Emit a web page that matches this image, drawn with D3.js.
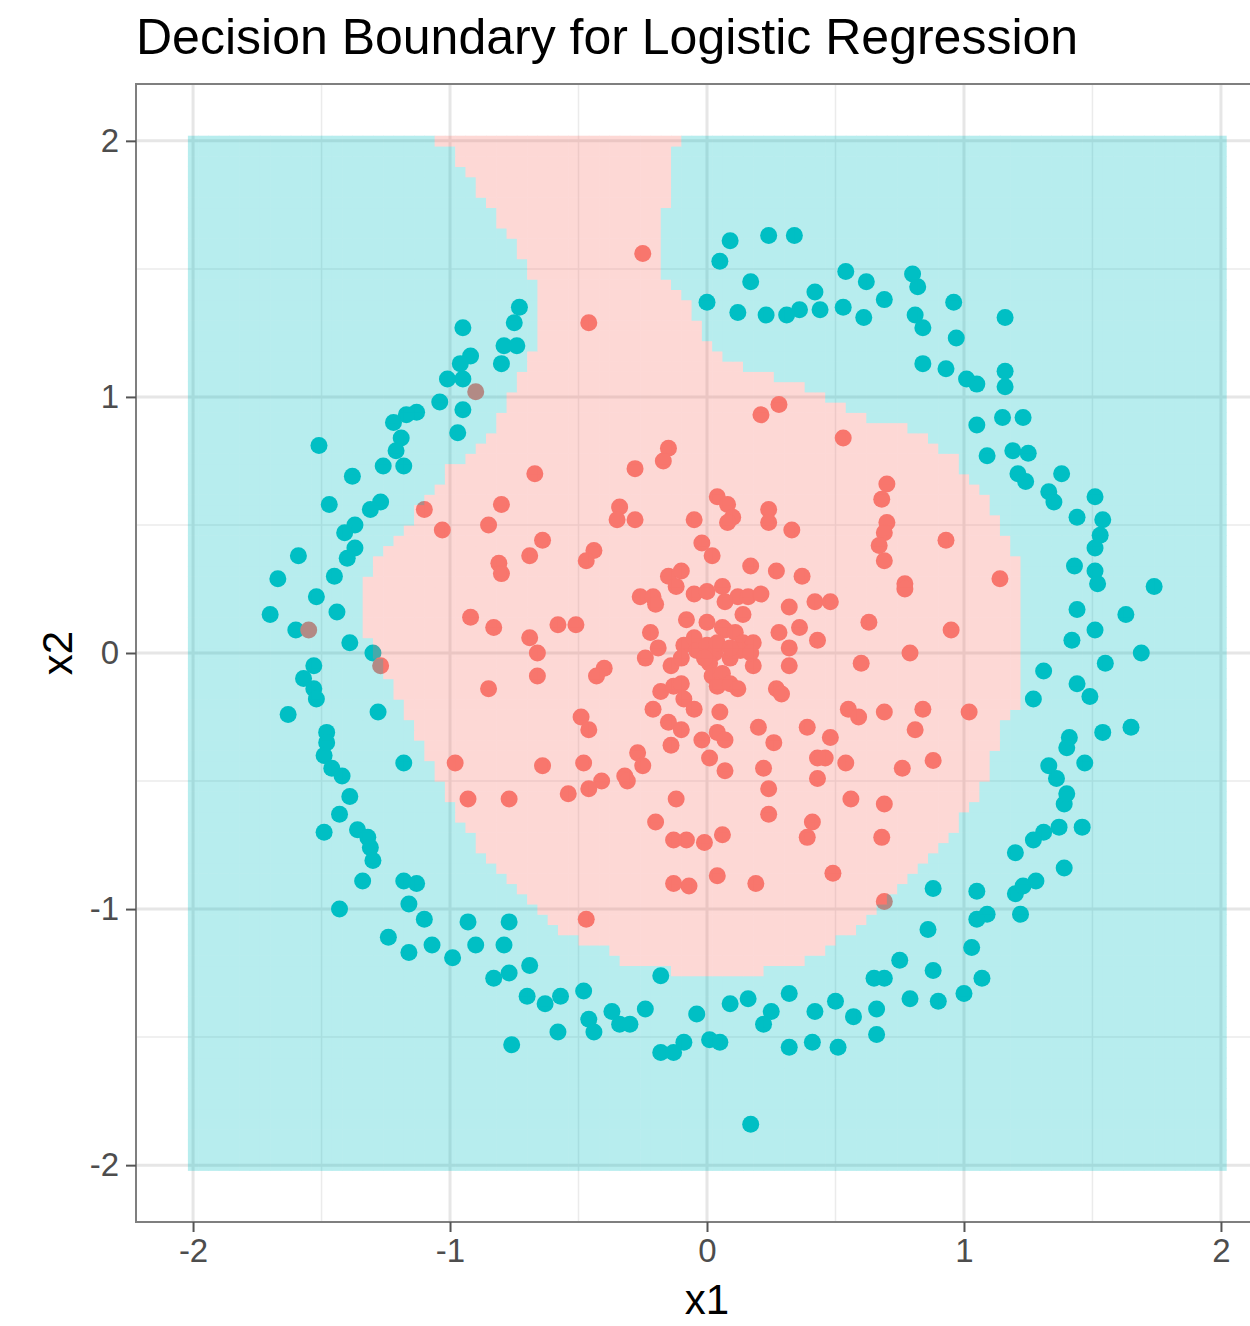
<!DOCTYPE html>
<html>
<head>
<meta charset="utf-8">
<script src="https://cdn.jsdelivr.net/npm/d3@7"></script>
<style>
  body { margin: 0; background: #fff; }
  text { font-family: "Liberation Sans", Arial, sans-serif; }
</style>
</head>
<body>
<div id="chart"></div>
<script>
// labels and ticks
titleText = "Decision Boundary for Logistic Regression"
xLabel = "x1"
yLabel = "x2"
majorTicks = [-2, -1, 0, 1, 2]
minorTicks = [-1.5, -0.5, 0.5, 1.5]

// prediction grid: -2..2 by 0.04
gridMin = -2
gridStep = 0.04
gridCount = 101

// outline of the region predicted as the inner class (x1, x2)
boundary = [
  [-1.04, 2.05], [-0.08, 2.05], [-0.08, 2.00], [-0.13, 1.98], [-0.13, 1.77], [-0.16, 1.75],
  [-0.16, 1.47], [-0.13, 1.45], [-0.08, 1.38], [-0.04, 1.30], [0.00, 1.22], [0.08, 1.16],
  [0.17, 1.11], [0.29, 1.07], [0.44, 1.01], [0.60, 0.93], [0.72, 0.90], [0.81, 0.86],
  [0.93, 0.79], [1.02, 0.70], [1.09, 0.62], [1.13, 0.54], [1.17, 0.44], [1.21, 0.36],
  [1.21, -0.20], [1.17, -0.25], [1.13, -0.36], [1.09, -0.46], [1.03, -0.59], [0.98, -0.67],
  [0.91, -0.77], [0.85, -0.82], [0.77, -0.89], [0.70, -0.98], [0.65, -1.03], [0.56, -1.10],
  [0.46, -1.15], [0.38, -1.21], [0.22, -1.22], [0.20, -1.26], [-0.12, -1.26], [-0.14, -1.22],
  [-0.32, -1.21], [-0.41, -1.15], [-0.53, -1.11], [-0.63, -1.04], [-0.70, -0.96], [-0.80, -0.85],
  [-0.88, -0.77], [-0.96, -0.65], [-1.02, -0.56], [-1.07, -0.44], [-1.13, -0.32], [-1.19, -0.20],
  [-1.25, -0.09], [-1.29, 0.01], [-1.33, 0.09], [-1.33, 0.29], [-1.29, 0.36], [-1.21, 0.44],
  [-1.16, 0.50], [-1.12, 0.58], [-1.00, 0.72], [-0.89, 0.81], [-0.80, 0.93], [-0.73, 1.07],
  [-0.69, 1.18], [-0.65, 1.24], [-0.65, 1.40], [-0.69, 1.48], [-0.73, 1.56], [-0.80, 1.67],
  [-0.88, 1.79], [-0.97, 1.91], [-1.00, 1.98], [-1.04, 2.00]
]

// observations, outer ring class
outerPts = [
  [-0.73,1.35],[-0.95,1.27],[-0.75,1.29],[-0.79,1.20],[-0.74,1.20],[-0.92,1.16],[-0.96,1.13],[-0.80,1.13],[-1.01,1.07],[-0.95,1.07],
  [-1.04,0.98],[-0.95,0.95],[-1.13,0.94],[-1.17,0.93],[-1.22,0.90],[-0.97,0.86],[-1.19,0.84],[-1.21,0.79],[-1.51,0.81],[-1.26,0.73],
  [-1.18,0.73],[-1.38,0.69],[-1.47,0.58],[-1.27,0.59],[-1.31,0.56],[-1.37,0.50],[-1.41,0.47],[-1.37,0.41],[-1.40,0.37],[-1.59,0.38],
  [-1.67,0.29],[-1.45,0.30],[-1.52,0.22],[-1.44,0.16],[-1.70,0.15],[-1.60,0.09],[-1.39,0.04],[-1.30,0.00],[-1.53,-0.05],[-1.57,-0.10],
  [-1.53,-0.14],[-1.52,-0.18],[-1.63,-0.24],[-1.28,-0.23],[-1.48,-0.31],[-1.48,-0.35],[-1.49,-0.40],[-1.46,-0.45],[-1.42,-0.48],[-1.18,-0.43],
  [-1.39,-0.56],[-1.43,-0.63],[-1.49,-0.70],[-1.36,-0.69],[-1.32,-0.72],[-1.31,-0.76],[-1.30,-0.81],[-1.34,-0.89],[-1.18,-0.89],[-1.13,-0.90],
  [-1.43,-1.00],[-1.16,-0.98],[-1.10,-1.04],[-0.93,-1.05],[-0.77,-1.05],[-1.24,-1.11],[-1.16,-1.17],[-1.07,-1.14],[-0.90,-1.14],[-0.79,-1.14],
  [-0.99,-1.19],[-0.69,-1.22],[-0.83,-1.27],[-0.77,-1.25],[-0.70,-1.34],[-0.76,-1.53],[-0.63,-1.37],[-0.57,-1.34],[-0.48,-1.32],[-0.58,-1.48],
  [-0.46,-1.43],[-0.44,-1.48],[-0.37,-1.40],[-0.34,-1.45],[-0.30,-1.45],[-0.24,-1.39],[-0.18,-1.26],[-0.18,-1.56],[-0.13,-1.56],[-0.09,-1.52],
  [-0.04,-1.41],[0.01,-1.51],[0.05,-1.52],[0.09,-1.37],[0.16,-1.35],[0.25,-1.40],[0.22,-1.45],[0.32,-1.33],[0.32,-1.54],[0.41,-1.52],
  [0.42,-1.40],[0.50,-1.36],[0.51,-1.54],[0.57,-1.42],[0.66,-1.39],[0.66,-1.49],[0.65,-1.27],[0.69,-1.27],[0.17,-1.84],
  [0.75,-1.20],[0.88,-1.24],[0.79,-1.35],[0.90,-1.36],[1.00,-1.33],[1.07,-1.27],[1.03,-1.15],[0.86,-1.08],[0.88,-0.92],[1.05,-0.93],
  [1.09,-1.02],[1.05,-1.04],[1.22,-1.02],[1.20,-0.94],[1.23,-0.91],[1.28,-0.89],[1.39,-0.84],[1.20,-0.78],
  [1.31,-0.70],[1.27,-0.73],[1.37,-0.68],[1.46,-0.68],[1.39,-0.59],[1.40,-0.55],[1.36,-0.49],[1.33,-0.44],[1.47,-0.43],[1.40,-0.37],
  [1.41,-0.33],[1.54,-0.31],[1.65,-0.29],[1.27,-0.18],[1.49,-0.17],[1.44,-0.12],[1.31,-0.07],[1.55,-0.04],[1.69,0.00],[1.42,0.05],
  [1.51,0.09],[1.63,0.15],[1.44,0.17],[1.74,0.26],[1.52,0.27],[1.51,0.32],[1.43,0.34],[1.51,0.41],[1.53,0.46],
  [1.54,0.52],[1.44,0.53],[1.51,0.61],[1.35,0.59],[1.33,0.63],[1.38,0.70],[1.24,0.67],[1.21,0.70],[1.25,0.78],[1.19,0.79],
  [1.09,0.77],[1.05,0.89],[1.15,0.92],[1.23,0.92],[1.16,1.04],[1.16,1.10],[1.05,1.05],[1.01,1.07],[0.93,1.11],[0.84,1.13],
  [0.97,1.23],[1.16,1.31],[0.84,1.27],[0.81,1.32],[0.96,1.37],[0.82,1.43],[0.80,1.48],[0.69,1.38],
  [0.09,1.61],[0.24,1.63],[0.34,1.63],[0.05,1.53],[0.17,1.45],[0.54,1.49],[0.62,1.45],[0.42,1.41],[0.00,1.37],[0.12,1.33],
  [0.23,1.32],[0.31,1.32],[0.36,1.34],[0.44,1.34],[0.53,1.35],[0.61,1.31]
]

// observations, inner cluster class
innerPts = [
  [-0.90,1.02],[-1.55,0.09],[-1.27,-0.05],[-0.67,0.70],[-0.80,0.58],[-1.10,0.56],[-0.85,0.50],[-1.03,0.48],
  [-0.25,1.56],[-0.46,1.29],[0.21,0.93],[0.28,0.97],[0.53,0.84],[-0.15,0.80],[-0.17,0.75],[-0.28,0.72],[0.04,0.61],[0.08,0.58],
  [0.10,0.53],[0.08,0.51],[-0.34,0.57],[-0.35,0.52],[-0.28,0.52],[-0.05,0.52],[0.24,0.56],[0.24,0.51],[0.33,0.48],[0.70,0.66],
  [0.68,0.60],[0.70,0.51],[0.69,0.47],[-0.64,0.44],[-0.02,0.43],[0.93,0.44],
  [-0.69,0.38],[-0.81,0.35],[-0.80,0.31],[-0.92,0.14],[-0.83,0.10],[-0.69,0.06],[-0.66,0.00],[-0.66,-0.09],[-0.85,-0.14],[-0.98,-0.43],
  [-0.64,-0.44],[-0.93,-0.57],[-0.77,-0.57],
  [-0.44,0.40],[-0.47,0.36],[0.02,0.38],[0.17,0.34],[0.27,0.32],[0.37,0.30],[-0.15,0.30],[-0.10,0.32],[-0.12,0.26],[-0.26,0.22],
  [-0.21,0.22],[-0.20,0.19],[-0.05,0.23],[0.00,0.24],[0.06,0.26],[0.07,0.20],[0.12,0.22],[0.16,0.22],[0.21,0.23],[0.32,0.18],
  [0.42,0.20],[0.48,0.20],[0.63,0.12],[0.67,0.42],[0.69,0.36],[-0.58,0.11],[-0.51,0.11],[-0.22,0.08],[-0.19,0.02],[-0.24,-0.02],
  [-0.08,0.13],[0.00,0.12],[0.06,0.10],[0.14,0.15],[0.28,0.08],[0.36,0.10],[0.43,0.05],[0.32,0.02],[0.32,-0.05],[0.18,-0.05],
  [0.60,-0.04],
  [-0.09,0.03],[-0.05,0.06],[-0.04,0.01],[0.00,0.03],[0.03,0.00],[0.07,0.09],[0.11,0.08],[0.14,0.04],[0.18,0.04],[0.13,0.01],
  [0.09,-0.02],[0.01,-0.04],[-0.14,-0.05],[-0.10,-0.02],[-0.01,-0.02],[0.04,0.04],[0.09,0.02],[0.17,0.00],[0.02,-0.09],[0.06,-0.08],
  [0.04,-0.13],[0.09,-0.12],[0.12,-0.14],
  [-0.40,-0.06],[-0.43,-0.09],[-0.18,-0.15],[-0.13,-0.13],[-0.10,-0.12],[-0.09,-0.18],[-0.05,-0.22],[-0.21,-0.22],[0.05,-0.23],[0.27,-0.14],
  [0.29,-0.16],[0.55,-0.22],[0.59,-0.25],[0.69,-0.23],[-0.49,-0.25],[-0.46,-0.30],[-0.15,-0.27],[-0.10,-0.30],[-0.14,-0.36],[-0.02,-0.34],
  [0.04,-0.31],[0.07,-0.34],[0.20,-0.29],[0.26,-0.35],[0.39,-0.29],[0.48,-0.33],[-0.27,-0.39],[-0.25,-0.44],[-0.32,-0.48],[-0.31,-0.50],
  [-0.48,-0.43],[-0.41,-0.50],[-0.46,-0.53],[-0.54,-0.55],[0.01,-0.41],[0.07,-0.46],[0.22,-0.45],[0.24,-0.53],[0.43,-0.41],[0.46,-0.41],
  [0.54,-0.43],[0.43,-0.49],[-0.12,-0.57],[0.56,-0.57],[0.69,-0.59],[-0.20,-0.66],[0.24,-0.63],[0.41,-0.66],[0.39,-0.72],[-0.13,-0.73],
  [-0.08,-0.73],[-0.01,-0.74],[0.06,-0.71],[0.68,-0.72],
  [1.14,0.29],[0.77,0.27],[0.77,0.25],[0.95,0.09],[0.79,0.00],[0.84,-0.22],[1.02,-0.23],[0.81,-0.30],[0.88,-0.42],[0.76,-0.45],
  [-0.13,-0.90],[-0.07,-0.91],[0.04,-0.87],[0.19,-0.90],[0.49,-0.86],[0.69,-0.97],[-0.47,-1.04]
]

col_inner = "#F8766D"
col_outer = "#00BFC4"

// Setup chart
canvas = ({width: 1250, height: 1326})
panel = ({left: 136, right: 1278, top: 84, bottom: 1222})
lim = [-2.222, 2.222]

x = d3.scaleLinear().domain(lim).range([panel.left, panel.right])
y = d3.scaleLinear().domain(lim).range([panel.bottom, panel.top])

var svg = d3.select("#chart").append("svg")
    .attr("width", canvas.width)
    .attr("height", canvas.height)

svg.append("rect")
    .attr("x", panel.left).attr("y", panel.top)
    .attr("width", panel.right - panel.left).attr("height", panel.bottom - panel.top)
    .attr("fill", "#fff")

// grid lines
grid = svg.append("g")
grid.selectAll(".vminor").data(minorTicks).join("line")
    .attr("x1", d => x(d)).attr("x2", d => x(d))
    .attr("y1", panel.top).attr("y2", panel.bottom)
    .attr("stroke", "#EBEBEB").attr("stroke-width", 1.5)
grid.selectAll(".hminor").data(minorTicks).join("line")
    .attr("y1", d => y(d)).attr("y2", d => y(d))
    .attr("x1", panel.left).attr("x2", panel.right)
    .attr("stroke", "#EBEBEB").attr("stroke-width", 1.5)
grid.selectAll(".vmajor").data(majorTicks).join("line")
    .attr("x1", d => x(d)).attr("x2", d => x(d))
    .attr("y1", panel.top).attr("y2", panel.bottom)
    .attr("stroke", "#E6E6E6").attr("stroke-width", 3)
grid.selectAll(".hmajor").data(majorTicks).join("line")
    .attr("y1", d => y(d)).attr("y2", d => y(d))
    .attr("x1", panel.left).attr("x2", panel.right)
    .attr("stroke", "#E6E6E6").attr("stroke-width", 3)

// points (drawn under the translucent tiles)
svg.append("g").selectAll("circle").data(outerPts).join("circle")
    .attr("cx", d => x(d[0])).attr("cy", d => y(d[1])).attr("r", 8.5)
    .attr("fill", col_outer)
svg.append("g").selectAll("circle").data(innerPts).join("circle")
    .attr("cx", d => x(d[0])).attr("cy", d => y(d[1])).attr("r", 8.5)
    .attr("fill", col_inner)

// prediction tiles
gridVals = d3.range(gridCount).map(i => +(gridMin + i * gridStep).toFixed(2))
cells = []
gridVals.forEach(gy => gridVals.forEach(gx => {
    cells.push({x: gx, y: gy, inner: d3.polygonContains(boundary, [gx, gy])})
}))

svg.append("g")
    .attr("opacity", 0.28)
    .selectAll("rect").data(cells).join("rect")
    .attr("x", d => x(d.x - gridStep / 2))
    .attr("y", d => y(d.y + gridStep / 2))
    .attr("width", x(gridStep) - x(0) + 0.6)
    .attr("height", y(0) - y(gridStep) + 0.6)
    .attr("fill", d => d.inner ? col_inner : col_outer)

// panel border
svg.append("rect")
    .attr("x", panel.left).attr("y", panel.top)
    .attr("width", panel.right - panel.left).attr("height", panel.bottom - panel.top)
    .attr("fill", "none").attr("stroke", "#7f7f7f").attr("stroke-width", 2)

// axes
xAxis = g => g
    .attr("transform", `translate(0,${panel.bottom})`)
    .call(d3.axisBottom(x).tickValues(majorTicks).tickSize(10).tickPadding(7).tickFormat(d => String(d)))
yAxis = g => g
    .attr("transform", `translate(${panel.left},0)`)
    .call(d3.axisLeft(y).tickValues(majorTicks).tickSize(10).tickPadding(7).tickFormat(d => String(d)))

svg.append("g").call(xAxis)
svg.append("g").call(yAxis)

svg.selectAll(".domain").remove()
svg.selectAll(".tick line").attr("stroke", "#555").attr("stroke-width", 2)
svg.selectAll(".tick text")
    .attr("fill", "#4D4D4D")
    .style("font-size", "33px")
    .style("font-family", "Liberation Sans, Arial, sans-serif")

// titles
svg.append("text")
    .attr("x", panel.left).attr("y", 54)
    .attr("font-size", 50).attr("fill", "#000")
    .text(titleText)

svg.append("text")
    .attr("x", x(0)).attr("y", 1314)
    .attr("text-anchor", "middle")
    .attr("font-size", 42).attr("fill", "#000")
    .text(xLabel)

svg.append("text")
    .attr("transform", `translate(72,${y(0)}) rotate(-90)`)
    .attr("text-anchor", "middle")
    .attr("font-size", 42).attr("fill", "#000")
    .text(yLabel)
</script>
</body>
</html>
